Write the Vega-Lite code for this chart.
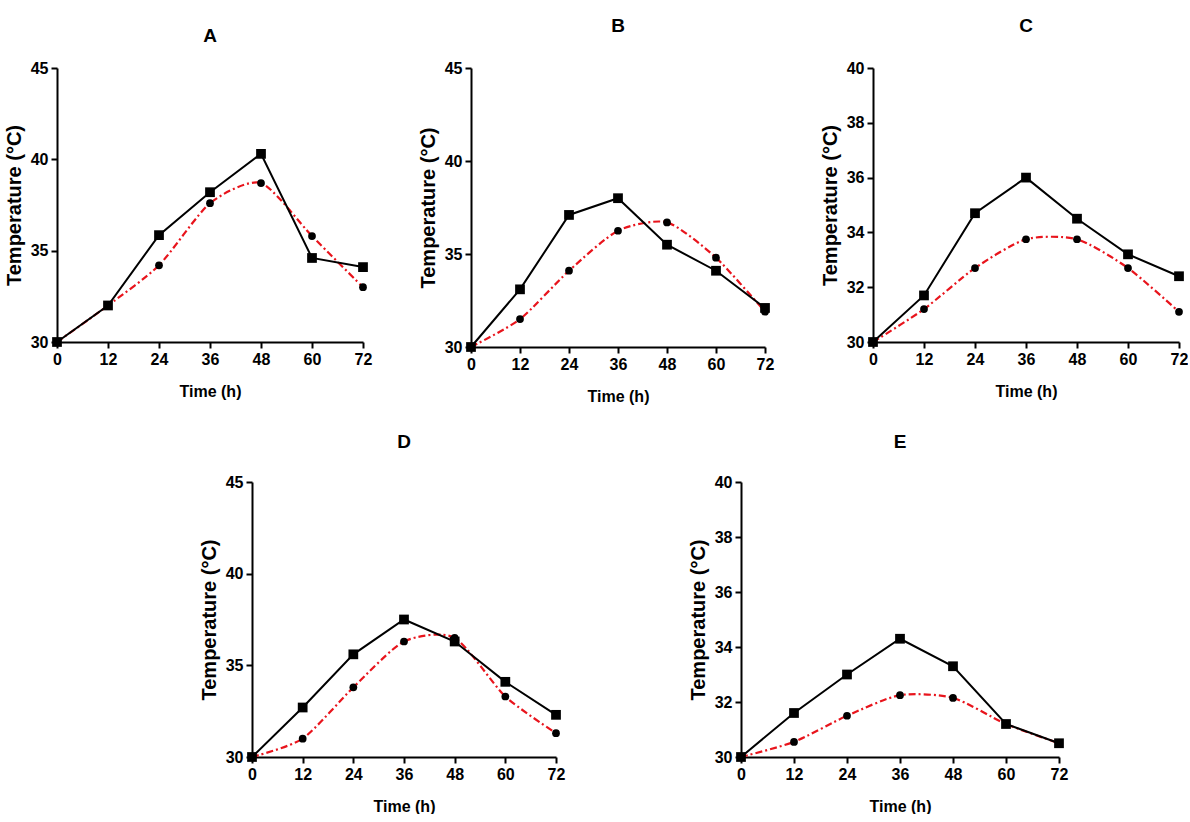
{
  "$schema": "https://vega.github.io/schema/vega-lite/v6.json",
  "background": "white",
  "padding": {"left": 4, "top": 17, "right": 0, "bottom": 0},
  "data": {"values": [
    {"panel": "A", "series": "S1", "time": 0, "temp": 30},
    {"panel": "A", "series": "S1", "time": 12, "temp": 32.0},
    {"panel": "A", "series": "S1", "time": 24, "temp": 35.85},
    {"panel": "A", "series": "S1", "time": 36, "temp": 38.2},
    {"panel": "A", "series": "S1", "time": 48, "temp": 40.3},
    {"panel": "A", "series": "S1", "time": 60, "temp": 34.6},
    {"panel": "A", "series": "S1", "time": 72, "temp": 34.1},
    {"panel": "A", "series": "S2", "time": 0, "temp": 30},
    {"panel": "A", "series": "S2", "time": 12, "temp": 32.0},
    {"panel": "A", "series": "S2", "time": 24, "temp": 34.2},
    {"panel": "A", "series": "S2", "time": 36, "temp": 37.6},
    {"panel": "A", "series": "S2", "time": 48, "temp": 38.7},
    {"panel": "A", "series": "S2", "time": 60, "temp": 35.8},
    {"panel": "A", "series": "S2", "time": 72, "temp": 33.0},
    {"panel": "B", "series": "S1", "time": 0, "temp": 30},
    {"panel": "B", "series": "S1", "time": 12, "temp": 33.1},
    {"panel": "B", "series": "S1", "time": 24, "temp": 37.1},
    {"panel": "B", "series": "S1", "time": 36, "temp": 38.0},
    {"panel": "B", "series": "S1", "time": 48, "temp": 35.5},
    {"panel": "B", "series": "S1", "time": 60, "temp": 34.1},
    {"panel": "B", "series": "S1", "time": 72, "temp": 32.1},
    {"panel": "B", "series": "S2", "time": 0, "temp": 30},
    {"panel": "B", "series": "S2", "time": 12, "temp": 31.5},
    {"panel": "B", "series": "S2", "time": 24, "temp": 34.1},
    {"panel": "B", "series": "S2", "time": 36, "temp": 36.25},
    {"panel": "B", "series": "S2", "time": 48, "temp": 36.7},
    {"panel": "B", "series": "S2", "time": 60, "temp": 34.8},
    {"panel": "B", "series": "S2", "time": 72, "temp": 31.9},
    {"panel": "C", "series": "S1", "time": 0, "temp": 30},
    {"panel": "C", "series": "S1", "time": 12, "temp": 31.7},
    {"panel": "C", "series": "S1", "time": 24, "temp": 34.7},
    {"panel": "C", "series": "S1", "time": 36, "temp": 36.0},
    {"panel": "C", "series": "S1", "time": 48, "temp": 34.5},
    {"panel": "C", "series": "S1", "time": 60, "temp": 33.2},
    {"panel": "C", "series": "S1", "time": 72, "temp": 32.4},
    {"panel": "C", "series": "S2", "time": 0, "temp": 30},
    {"panel": "C", "series": "S2", "time": 12, "temp": 31.2},
    {"panel": "C", "series": "S2", "time": 24, "temp": 32.7},
    {"panel": "C", "series": "S2", "time": 36, "temp": 33.75},
    {"panel": "C", "series": "S2", "time": 48, "temp": 33.75},
    {"panel": "C", "series": "S2", "time": 60, "temp": 32.7},
    {"panel": "C", "series": "S2", "time": 72, "temp": 31.1},
    {"panel": "D", "series": "S1", "time": 0, "temp": 30},
    {"panel": "D", "series": "S1", "time": 12, "temp": 32.7},
    {"panel": "D", "series": "S1", "time": 24, "temp": 35.6},
    {"panel": "D", "series": "S1", "time": 36, "temp": 37.5},
    {"panel": "D", "series": "S1", "time": 48, "temp": 36.3},
    {"panel": "D", "series": "S1", "time": 60, "temp": 34.1},
    {"panel": "D", "series": "S1", "time": 72, "temp": 32.3},
    {"panel": "D", "series": "S2", "time": 0, "temp": 30},
    {"panel": "D", "series": "S2", "time": 12, "temp": 31.0},
    {"panel": "D", "series": "S2", "time": 24, "temp": 33.8},
    {"panel": "D", "series": "S2", "time": 36, "temp": 36.3},
    {"panel": "D", "series": "S2", "time": 48, "temp": 36.5},
    {"panel": "D", "series": "S2", "time": 60, "temp": 33.3},
    {"panel": "D", "series": "S2", "time": 72, "temp": 31.3},
    {"panel": "E", "series": "S1", "time": 0, "temp": 30},
    {"panel": "E", "series": "S1", "time": 12, "temp": 31.6},
    {"panel": "E", "series": "S1", "time": 24, "temp": 33.0},
    {"panel": "E", "series": "S1", "time": 36, "temp": 34.3},
    {"panel": "E", "series": "S1", "time": 48, "temp": 33.3},
    {"panel": "E", "series": "S1", "time": 60, "temp": 31.2},
    {"panel": "E", "series": "S1", "time": 72, "temp": 30.5},
    {"panel": "E", "series": "S2", "time": 0, "temp": 30},
    {"panel": "E", "series": "S2", "time": 12, "temp": 30.55},
    {"panel": "E", "series": "S2", "time": 24, "temp": 31.5},
    {"panel": "E", "series": "S2", "time": 36, "temp": 32.25},
    {"panel": "E", "series": "S2", "time": 48, "temp": 32.15},
    {"panel": "E", "series": "S2", "time": 60, "temp": 31.2},
    {"panel": "E", "series": "S2", "time": 72, "temp": 30.5}
  ]},
  "resolve": {"scale": {"x": "independent", "y": "independent"}},
  "spacing": 29,
  "vconcat": [
    {
      "spacing": 46,
      "resolve": {"scale": {"x": "independent", "y": "independent"}},
      "hconcat": [
        {
          "width": 306, "height": 274,
          "title": {"text": "A", "offset": 14},
          "transform": [{"filter": "datum.panel === 'A'"}],
          "encoding": {
            "x": {"field": "time", "type": "quantitative", "scale": {"domain": [0, 72], "nice": false}, "axis": {"values": [0, 12, 24, 36, 48, 60, 72], "title": "Time (h)"}},
            "y": {"field": "temp", "type": "quantitative", "scale": {"domain": [30, 45], "nice": false, "zero": false}, "axis": {"values": [30, 35, 40, 45], "title": "Temperature (°C)"}}
          },
          "layer": [
            {"transform": [{"filter": "datum.series === 'S2'"}], "mark": {"type": "line", "color": "#e8141c", "strokeWidth": 2.2, "strokeDash": [7, 3, 2, 3], "interpolate": "cardinal", "tension": 0.3}},
            {"transform": [{"filter": "datum.series === 'S1'"}], "mark": {"type": "line", "color": "#000000", "strokeWidth": 2}},
            {"mark": {"type": "point", "filled": true, "opacity": 1, "color": "#000000"}, "encoding": {
              "shape": {"field": "series", "type": "nominal", "scale": {"domain": ["S1", "S2"], "range": ["square", "circle"]}, "legend": null},
              "size": {"field": "series", "type": "nominal", "scale": {"domain": ["S1", "S2"], "range": [95, 60]}, "legend": null}}}
          ]
        },
        {
          "width": 294, "height": 279,
          "title": {"text": "B", "offset": 24},
          "transform": [{"filter": "datum.panel === 'B'"}],
          "encoding": {
            "x": {"field": "time", "type": "quantitative", "scale": {"domain": [0, 72], "nice": false}, "axis": {"values": [0, 12, 24, 36, 48, 60, 72], "title": "Time (h)"}},
            "y": {"field": "temp", "type": "quantitative", "scale": {"domain": [30, 45], "nice": false, "zero": false}, "axis": {"values": [30, 35, 40, 45], "title": "Temperature (°C)"}}
          },
          "layer": [
            {"transform": [{"filter": "datum.series === 'S2'"}], "mark": {"type": "line", "color": "#e8141c", "strokeWidth": 2.2, "strokeDash": [7, 3, 2, 3], "interpolate": "cardinal", "tension": 0.3}},
            {"transform": [{"filter": "datum.series === 'S1'"}], "mark": {"type": "line", "color": "#000000", "strokeWidth": 2}},
            {"mark": {"type": "point", "filled": true, "opacity": 1, "color": "#000000"}, "encoding": {
              "shape": {"field": "series", "type": "nominal", "scale": {"domain": ["S1", "S2"], "range": ["square", "circle"]}, "legend": null},
              "size": {"field": "series", "type": "nominal", "scale": {"domain": ["S1", "S2"], "range": [95, 60]}, "legend": null}}}
          ]
        },
        {
          "width": 306, "height": 274,
          "title": {"text": "C", "offset": 24},
          "transform": [{"filter": "datum.panel === 'C'"}],
          "encoding": {
            "x": {"field": "time", "type": "quantitative", "scale": {"domain": [0, 72], "nice": false}, "axis": {"values": [0, 12, 24, 36, 48, 60, 72], "title": "Time (h)"}},
            "y": {"field": "temp", "type": "quantitative", "scale": {"domain": [30, 40], "nice": false, "zero": false}, "axis": {"values": [30, 32, 34, 36, 38, 40], "title": "Temperature (°C)"}}
          },
          "layer": [
            {"transform": [{"filter": "datum.series === 'S2'"}], "mark": {"type": "line", "color": "#e8141c", "strokeWidth": 2.2, "strokeDash": [7, 3, 2, 3], "interpolate": "cardinal", "tension": 0.3}},
            {"transform": [{"filter": "datum.series === 'S1'"}], "mark": {"type": "line", "color": "#000000", "strokeWidth": 2}},
            {"mark": {"type": "point", "filled": true, "opacity": 1, "color": "#000000"}, "encoding": {
              "shape": {"field": "series", "type": "nominal", "scale": {"domain": ["S1", "S2"], "range": ["square", "circle"]}, "legend": null},
              "size": {"field": "series", "type": "nominal", "scale": {"domain": ["S1", "S2"], "range": [95, 60]}, "legend": null}}}
          ]
        }
      ]
    },
    {
      "spacing": 123,
      "resolve": {"scale": {"x": "independent", "y": "independent"}},
      "hconcat": [
        {
          "width": 19, "height": 10,
          "data": {"values": [{"panel": "spacer"}]},
          "mark": {"type": "text", "text": ""},
          "encoding": {}
        },
        {
          "width": 304, "height": 275,
          "title": {"text": "D", "offset": 22},
          "transform": [{"filter": "datum.panel === 'D'"}],
          "encoding": {
            "x": {"field": "time", "type": "quantitative", "scale": {"domain": [0, 72], "nice": false}, "axis": {"values": [0, 12, 24, 36, 48, 60, 72], "title": "Time (h)"}},
            "y": {"field": "temp", "type": "quantitative", "scale": {"domain": [30, 45], "nice": false, "zero": false}, "axis": {"values": [30, 35, 40, 45], "title": "Temperature (°C)"}}
          },
          "layer": [
            {"transform": [{"filter": "datum.series === 'S2'"}], "mark": {"type": "line", "color": "#e8141c", "strokeWidth": 2.2, "strokeDash": [7, 3, 2, 3], "interpolate": "cardinal", "tension": 0.3}},
            {"transform": [{"filter": "datum.series === 'S1'"}], "mark": {"type": "line", "color": "#000000", "strokeWidth": 2}},
            {"mark": {"type": "point", "filled": true, "opacity": 1, "color": "#000000"}, "encoding": {
              "shape": {"field": "series", "type": "nominal", "scale": {"domain": ["S1", "S2"], "range": ["square", "circle"]}, "legend": null},
              "size": {"field": "series", "type": "nominal", "scale": {"domain": ["S1", "S2"], "range": [95, 60]}, "legend": null}}}
          ]
        },
        {
          "width": 318, "height": 275,
          "title": {"text": "E", "offset": 22},
          "transform": [{"filter": "datum.panel === 'E'"}],
          "encoding": {
            "x": {"field": "time", "type": "quantitative", "scale": {"domain": [0, 72], "nice": false}, "axis": {"values": [0, 12, 24, 36, 48, 60, 72], "title": "Time (h)"}},
            "y": {"field": "temp", "type": "quantitative", "scale": {"domain": [30, 40], "nice": false, "zero": false}, "axis": {"values": [30, 32, 34, 36, 38, 40], "title": "Temperature (°C)"}}
          },
          "layer": [
            {"transform": [{"filter": "datum.series === 'S2'"}], "mark": {"type": "line", "color": "#e8141c", "strokeWidth": 2.2, "strokeDash": [7, 3, 2, 3], "interpolate": "cardinal", "tension": 0.3}},
            {"transform": [{"filter": "datum.series === 'S1'"}], "mark": {"type": "line", "color": "#000000", "strokeWidth": 2}},
            {"mark": {"type": "point", "filled": true, "opacity": 1, "color": "#000000"}, "encoding": {
              "shape": {"field": "series", "type": "nominal", "scale": {"domain": ["S1", "S2"], "range": ["square", "circle"]}, "legend": null},
              "size": {"field": "series", "type": "nominal", "scale": {"domain": ["S1", "S2"], "range": [95, 60]}, "legend": null}}}
          ]
        }
      ]
    }
  ],
  "config": {
    "view": {"stroke": null},
    "font": "Liberation Sans",
    "title": {"font": "Liberation Sans", "fontSize": 19, "fontWeight": "bold", "color": "#000000", "anchor": "middle", "frame": "group"},
    "axis": {
      "grid": false,
      "domainColor": "#000000", "domainWidth": 2,
      "tickColor": "#000000", "tickWidth": 2, "tickSize": 6,
      "labelColor": "#000000", "labelFont": "Liberation Sans", "labelFontSize": 16, "labelFontWeight": "bold", "labelPadding": 3,
      "titleColor": "#000000", "titleFont": "Liberation Sans", "titleFontWeight": "bold"
    },
    "axisX": {"titleFontSize": 16, "titlePadding": 16, "labelFlush": false},
    "axisY": {"titleFontSize": 20, "titlePadding": 6, "labelFlush": false}
  }
}
